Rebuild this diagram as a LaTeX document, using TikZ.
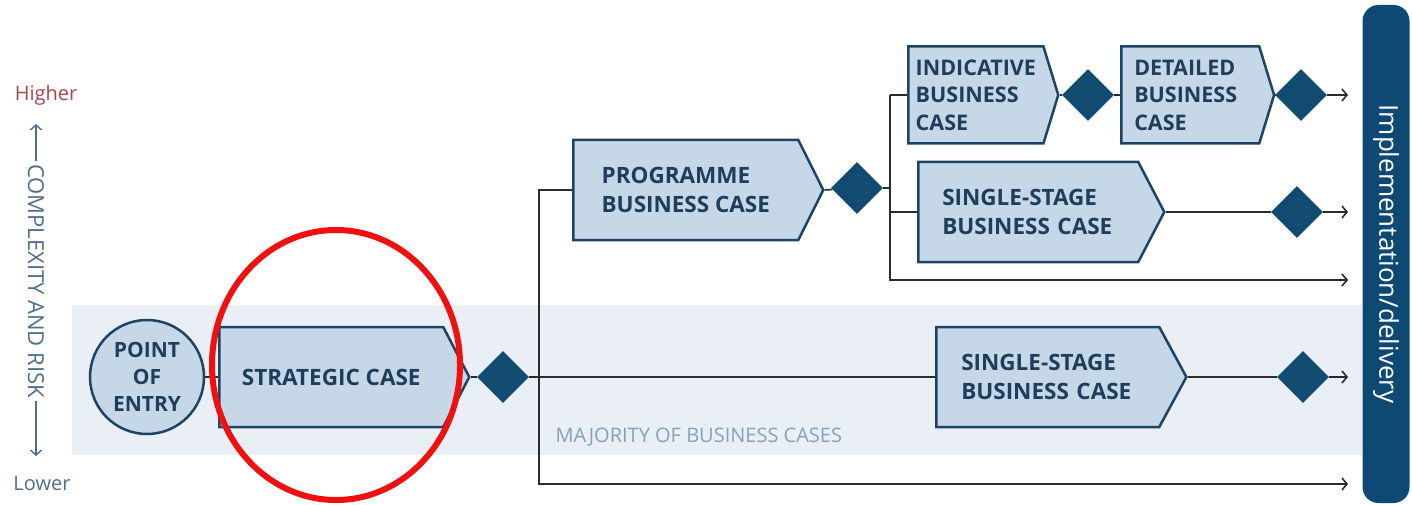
\documentclass[tikz,border=0pt]{standalone}
\usepackage{fontspec}
\setmainfont{Open Sans}
\usetikzlibrary{shapes.geometric,shapes.symbols,arrows.meta,positioning}
\definecolor{casefill}{HTML}{C6D7E8}
\definecolor{caseline}{HTML}{1D4466}
\definecolor{casetext}{HTML}{1F3E5C}
\definecolor{gatefill}{HTML}{124B70}
\definecolor{bandfill}{HTML}{E9EFF4}
\definecolor{higher}{HTML}{A8474A}
\definecolor{axistext}{HTML}{4E6E8B}
\definecolor{majority}{HTML}{86A2BB}
\definecolor{delivery}{HTML}{0E4973}
\definecolor{flowline}{HTML}{2B2B2B}
\definecolor{markred}{HTML}{F01010}

\begin{document}
\begin{tikzpicture}[
        x=1pt, y=-1pt,
        casefont/.style={font=\fontsize{22.5}{29}\selectfont\bfseries, text=casetext},
        casebox/.style={
            signal, signal to=east, signal from=nowhere,
            draw=caseline, fill=casefill, line width=2.5pt,
            minimum height=100pt, align=left, anchor=west,
            inner sep=0pt, casefont
        },
        gate/.style={diamond, fill=gatefill, minimum size=52pt, inner sep=0pt, aspect=1},
        flow/.style={draw=flowline, line width=1.6pt},
        flowexit/.style={flow, -{Straight Barb[length=5pt,width=12pt,line width=1.6pt]}}
    ]
    \useasboundingbox (0,0) rectangle (1412,505);
    \fill[bandfill] (72,305) rectangle (1362,455);

    % axis on the left
    \node[text=higher, font=\fontsize{20}{24}\selectfont] (higher) at (46,95) {Higher};
    \node[text=axistext, font=\fontsize{20}{24}\selectfont] (lower) at (42,483) {Lower};
    \node[text=axistext, font=\fontsize{22}{26}\selectfont, rotate=-90, inner sep=3pt] (axis) at (36,281) {COMPLEXITY AND RISK};
    \coordinate (axistop) at (36,124);
    \coordinate (axisbot) at (36,456);
    \draw[draw=axistext, line width=1.4pt, -{Straight Barb[length=5pt,width=11pt,line width=1.4pt]}] (axis.west) -- (axistop);
    \draw[draw=axistext, line width=1.4pt, -{Straight Barb[length=5pt,width=11pt,line width=1.4pt]}] (axis.east) -- (axisbot);

    % cases
    \node[circle, draw=caseline, fill=casefill, line width=2.5pt, minimum size=114pt, inner sep=0pt,
        align=center, font=\fontsize{21}{27}\selectfont\bfseries, text=casetext] (poe) at (147,377) {POINT\\OF\\ENTRY};
    \node[casebox, signal pointer angle=125, minimum width=250pt] (sc) at (218,377) {STRATEGIC CASE};
    \node[casebox, signal pointer angle=127, minimum width=250pt] (pbc) at (572,190) {PROGRAMME\\BUSINESS CASE};
    \node[casebox, signal pointer angle=146, minimum width=150pt, minimum height=97pt,
        font=\fontsize{21.5}{27.5}\selectfont\bfseries] (ibc) at (907,95) {INDICATIVE\\BUSINESS\\CASE};
    \node[casebox, signal pointer angle=146, minimum height=97pt, inner xsep=13pt, text width=112pt,
        font=\fontsize{21.5}{27.5}\selectfont\bfseries] (dbc) at (1120,95) {DETAILED\\BUSINESS\\CASE};
    \node[casebox, signal pointer angle=125, inner xsep=24pt, text width=172pt] (ssa) at (917,212) {SINGLE-STAGE\\BUSINESS CASE};
    \node[casebox, signal pointer angle=123, inner xsep=25pt, text width=173pt] (ssb) at (935,377) {SINGLE-STAGE\\BUSINESS CASE};

    % gates
    \node[gate] (g1) at (503,377) {};
    \node[gate] (g2) at (857,188) {};
    \node[gate] (g3) at (1088,95) {};
    \node[gate] (g4) at (1301,95) {};
    \node[gate] (g5) at (1297,212) {};
    \node[gate] (g6) at (1303,377) {};

    \node[fill=delivery, rounded corners=16pt, rotate=-90, minimum width=498pt, minimum height=47pt,
        text=white, font=\fontsize{26}{30}\selectfont] (impl) at (1386,254) {Implementation/delivery};

    \node[anchor=west, text=majority, font=\fontsize{20}{24}\selectfont] (majority) at (552,437) {MAJORITY OF BUSINESS CASES};

    % connectors
    \coordinate (j1) at (539,377);
    \coordinate (j2) at (890,188);
    \coordinate (e1) at (1348,95);
    \coordinate (e2) at (1348,212);
    \coordinate (e3) at (1348,280);
    \coordinate (e4) at (1348,377);
    \coordinate (e5) at (1348,484);
    \draw[flow] (poe) -- (sc.west);
    \draw[flow] (sc.east) -- (g1);
    \draw[flow, line width=2.4pt] (g1) -- (ssb.west);
    \draw[flow, line width=2.4pt] (ssb.east) -- (g6);
    \draw[flowexit, line width=2.4pt] (g6) -- (e4);
    \draw[flow] (j1) |- (pbc.west);
    \draw[flowexit] (j1) |- (e5);
    \draw[flow] (pbc.east) -- (g2);
    \draw[flow] (g2) -- (j2);
    \draw[flow] (j2 |- ibc.west) -- (ibc.west);
    \draw[flow] (j2 |- ibc.west) |- (ssa.west);
    \draw[flowexit] (j2) |- (e3);
    \draw[flow] (ibc.east) -- (g3);
    \draw[flow] (g3) -- (dbc.west);
    \draw[flow] (dbc.east) -- (g4);
    \draw[flowexit] (g4) -- (e1);
    \draw[flow] (ssa.east) -- (g5);
    \draw[flowexit] (g5) -- (e2);

    \draw[markred, line width=6pt] (336,365) ellipse [x radius=124pt, y radius=135pt];
\end{tikzpicture}
\end{document}
